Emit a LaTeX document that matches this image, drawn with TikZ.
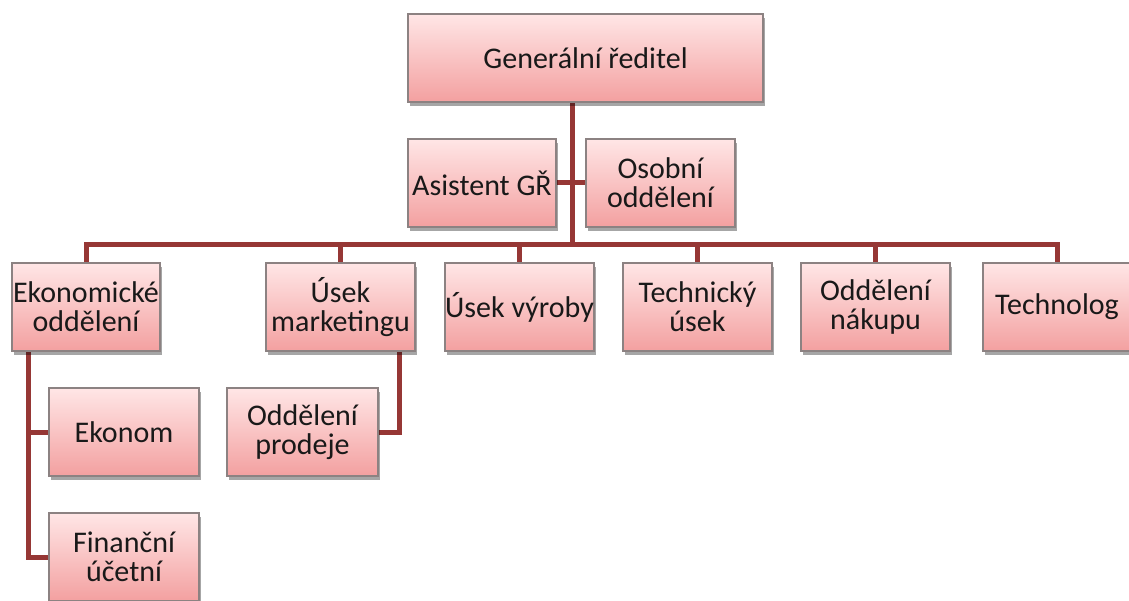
\documentclass[tikz,border=0pt]{standalone}
\usepackage{fontspec}
\setmainfont{Carlito}
\usetikzlibrary{shadows,backgrounds}
\definecolor{linkred}{RGB}{150,55,53}
\definecolor{boxtop}{RGB}{255,230,230}
\definecolor{boxbot}{RGB}{243,160,160}
\definecolor{boxline}{RGB}{140,130,130}
\tikzset{
  orgbox/.style={draw=boxline, line width=1.2pt, top color=boxtop, bottom color=boxbot,
    minimum height=88pt, inner sep=0pt, align=center, text=black!90,
    font=\fontsize{30}{29}\selectfont,
    drop shadow={shadow xshift=2pt, shadow yshift=-4pt, opacity=0.35, fill=black}},
  link/.style={draw=linkred, line width=5pt, line join=miter}
}
\begin{document}
\begin{tikzpicture}[x=1pt,y=-1pt]
\useasboundingbox (0,0) rectangle (1129,601);
\node[orgbox, minimum width=355pt] (gr) at (585.5,58) {Generální ředitel};
\node[orgbox, minimum width=148pt] (asis) at (482,183) {Asistent GŘ};
\node[orgbox, minimum width=149pt] (osob) at (660.5,183) {Osobní\\oddělení};
\node[orgbox, minimum width=148pt] (ekon) at (86,307) {Ekonomické\\oddělení};
\node[orgbox, minimum width=149pt] (mark) at (340.5,307) {Úsek\\marketingu};
\node[orgbox, minimum width=149pt] (vyr) at (519.5,307) {Úsek výroby};
\node[orgbox, minimum width=149pt] (tech) at (697.5,307) {Technický\\úsek};
\node[orgbox, minimum width=149pt] (nak) at (875.5,307) {Oddělení\\nákupu};
\node[orgbox, minimum width=148pt] (techn) at (1057,307) {Technolog};
\node[orgbox, minimum width=150pt] (ekonom) at (124,432) {Ekonom};
\node[orgbox, minimum width=150pt] (fin) at (124,557) {Finanční\\účetní};
\node[orgbox, minimum width=151pt] (prod) at (302.5,432) {Oddělení\\prodeje};
\coordinate (bus) at (572,245);
\coordinate (ev) at (28,400);
\coordinate (mv) at (399,400);
\begin{scope}[on background layer]
\fill[white] (0,0) rectangle (1129,601);
\draw[link] (gr.south -| bus) -- (bus);
\draw[link] (asis.east) -- (osob.west);
\draw[link] (ekon.north) -- (ekon.north |- bus) -- (techn.north |- bus) -- (techn.north);
\draw[link] (mark.north) -- (mark.north |- bus);
\draw[link] (vyr.north) -- (vyr.north |- bus);
\draw[link] (tech.north) -- (tech.north |- bus);
\draw[link] (nak.north) -- (nak.north |- bus);
\draw[link] (ekon.south -| ev) |- (fin.west);
\draw[link] (ekon.south -| ev) |- (ekonom.west);
\draw[link] (mark.south -| mv) |- (prod.east);
\end{scope}
\end{tikzpicture}
\end{document}
